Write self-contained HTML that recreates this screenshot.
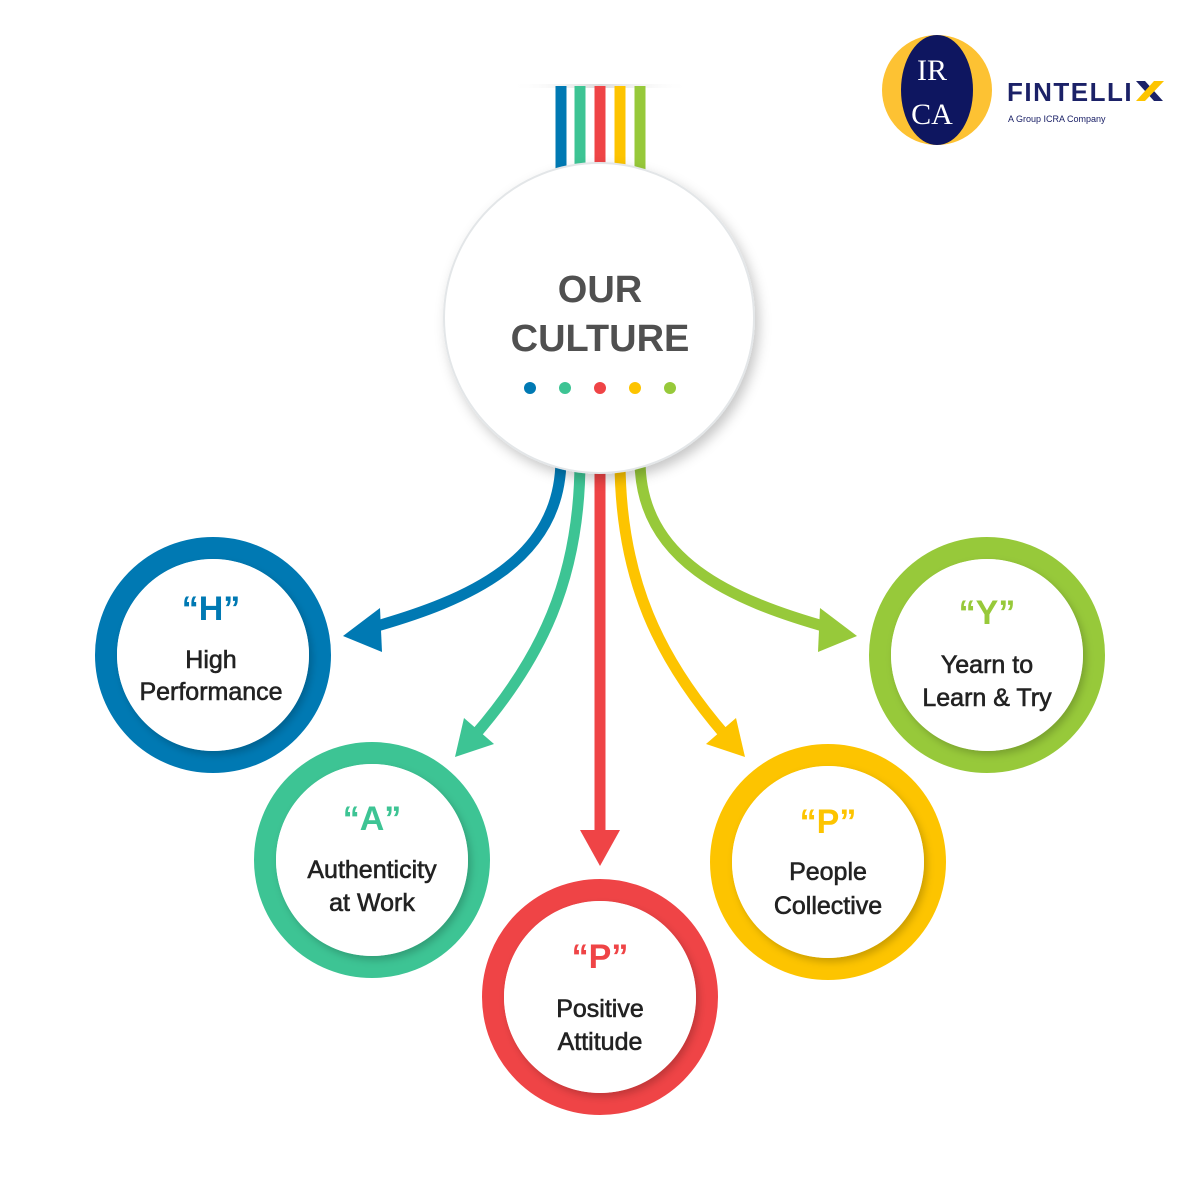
<!DOCTYPE html>
<html><head><meta charset="utf-8"><style>
html,body{margin:0;padding:0;background:#fff;}
svg{display:block;}
text{font-family:"Liberation Sans",sans-serif;}
.lb{font-size:25px;fill:#222;stroke:#222;stroke-width:0.6px;}
</style></head><body>
<svg width="1200" height="1200" viewBox="0 0 1200 1200" xmlns="http://www.w3.org/2000/svg">
<defs>
<filter id="sh" x="-30%" y="-30%" width="160%" height="160%"><feDropShadow dx="4" dy="6" stdDeviation="6" flood-color="#000" flood-opacity="0.22"/></filter>
<filter id="ish" x="-30%" y="-30%" width="160%" height="160%"><feDropShadow dx="3" dy="4" stdDeviation="4" flood-color="#000" flood-opacity="0.2"/></filter>
<linearGradient id="topfade" x1="0" x2="1"><stop offset="0" stop-color="#fff" stop-opacity="0"/><stop offset="0.5" stop-color="#ccc"/><stop offset="1" stop-color="#fff" stop-opacity="0"/></linearGradient>
</defs>
<rect x="510" y="84" width="180" height="4" fill="url(#topfade)" opacity="0.7"/>
<g stroke-width="11">
<line x1="561" y1="86" x2="561" y2="170" stroke="#0079b3"/>
<line x1="580" y1="86" x2="580" y2="170" stroke="#3dc494"/>
<line x1="600" y1="86" x2="600" y2="170" stroke="#ef4446"/>
<line x1="620" y1="86" x2="620" y2="170" stroke="#fdc400"/>
<line x1="640" y1="86" x2="640" y2="170" stroke="#97c93a"/>
</g>
<g fill="none" stroke-width="11">
<path d="M561 460 C560 560 470 600 370 628" stroke="#0079b3"/>
<path d="M580 460 C580 580 540 660 475 735" stroke="#3dc494"/>
<path d="M600 460 L600 835" stroke="#ef4446"/>
<path d="M620 460 C620 580 660 660 725 735" stroke="#fdc400"/>
<path d="M640 460 C640 560 730 600 830 628" stroke="#97c93a"/>
</g>
<polygon points="343,636 380,608 382,652" fill="#0079b3"/>
<polygon points="455,757 464,718 494,744" fill="#3dc494"/>
<polygon points="600,866 580,830 620,830" fill="#ef4446"/>
<polygon points="745,757 706,744 736,718" fill="#fdc400"/>
<polygon points="857,636 818,652 820,608" fill="#97c93a"/>
<circle cx="599" cy="318" r="155" fill="#fff" stroke="#e3e6e8" stroke-width="2" filter="url(#sh)"/>
<text x="600" y="302" text-anchor="middle" font-size="38" font-weight="bold" fill="#505050">OUR</text>
<text x="600" y="351" text-anchor="middle" font-size="38" font-weight="bold" fill="#505050">CULTURE</text>
<circle cx="530" cy="388" r="6" fill="#0079b3"/><circle cx="565" cy="388" r="6" fill="#3dc494"/><circle cx="600" cy="388" r="6" fill="#ef4446"/><circle cx="635" cy="388" r="6" fill="#fdc400"/><circle cx="670" cy="388" r="6" fill="#97c93a"/>
<g>
<circle cx="213" cy="655" r="107" fill="#fff" stroke="#0079b3" stroke-width="22"/>
<circle cx="213" cy="655" r="96" fill="#fff" filter="url(#ish)"/>
<text x="211" y="620" text-anchor="middle" font-size="34" font-weight="bold" fill="#0079b3">“H”</text>
<text x="211" y="668" text-anchor="middle" class="lb">High</text>
<text x="211" y="700" text-anchor="middle" class="lb">Performance</text>
</g>
<g>
<circle cx="372" cy="860" r="107" fill="#fff" stroke="#3dc494" stroke-width="22"/>
<circle cx="372" cy="860" r="96" fill="#fff" filter="url(#ish)"/>
<text x="372" y="830" text-anchor="middle" font-size="34" font-weight="bold" fill="#3dc494">“A”</text>
<text x="372" y="878" text-anchor="middle" class="lb">Authenticity</text>
<text x="372" y="911" text-anchor="middle" class="lb">at Work</text>
</g>
<g>
<circle cx="600" cy="997" r="107" fill="#fff" stroke="#ef4446" stroke-width="22"/>
<circle cx="600" cy="997" r="96" fill="#fff" filter="url(#ish)"/>
<text x="600" y="968" text-anchor="middle" font-size="34" font-weight="bold" fill="#ef4446">“P”</text>
<text x="600" y="1017" text-anchor="middle" class="lb">Positive</text>
<text x="600" y="1050" text-anchor="middle" class="lb">Attitude</text>
</g>
<g>
<circle cx="828" cy="862" r="107" fill="#fff" stroke="#fdc400" stroke-width="22"/>
<circle cx="828" cy="862" r="96" fill="#fff" filter="url(#ish)"/>
<text x="828" y="833" text-anchor="middle" font-size="34" font-weight="bold" fill="#fdc400">“P”</text>
<text x="828" y="880" text-anchor="middle" class="lb">People</text>
<text x="828" y="914" text-anchor="middle" class="lb">Collective</text>
</g>
<g>
<circle cx="987" cy="655" r="107" fill="#fff" stroke="#97c93a" stroke-width="22"/>
<circle cx="987" cy="655" r="96" fill="#fff" filter="url(#ish)"/>
<text x="987" y="624" text-anchor="middle" font-size="34" font-weight="bold" fill="#97c93a">“Y”</text>
<text x="987" y="673" text-anchor="middle" class="lb">Yearn to</text>
<text x="987" y="706" text-anchor="middle" class="lb">Learn &amp; Try</text>
</g>
<circle cx="937" cy="90" r="55" fill="#fdc233"/>
<ellipse cx="937" cy="90" rx="36" ry="55" fill="#0e1660"/>
<text x="932" y="80" text-anchor="middle" font-size="30" fill="#fff" style="font-family:'Liberation Serif',serif">IR</text>
<text x="932" y="124" text-anchor="middle" font-size="30" fill="#fff" style="font-family:'Liberation Serif',serif">CA</text>
<text x="1007" y="101" font-size="26" font-weight="bold" fill="#1b2167" letter-spacing="1.5">FINTELLI</text>
<polygon points="1136,81 1145,81 1163,101 1154,101" fill="#1b2167"/>
<polygon points="1154,81 1164,81 1145,101 1136,101" fill="#fdc400"/>
<text x="1008" y="122" font-size="9" fill="#1b2167">A Group ICRA Company</text>
</svg>
</body></html>
